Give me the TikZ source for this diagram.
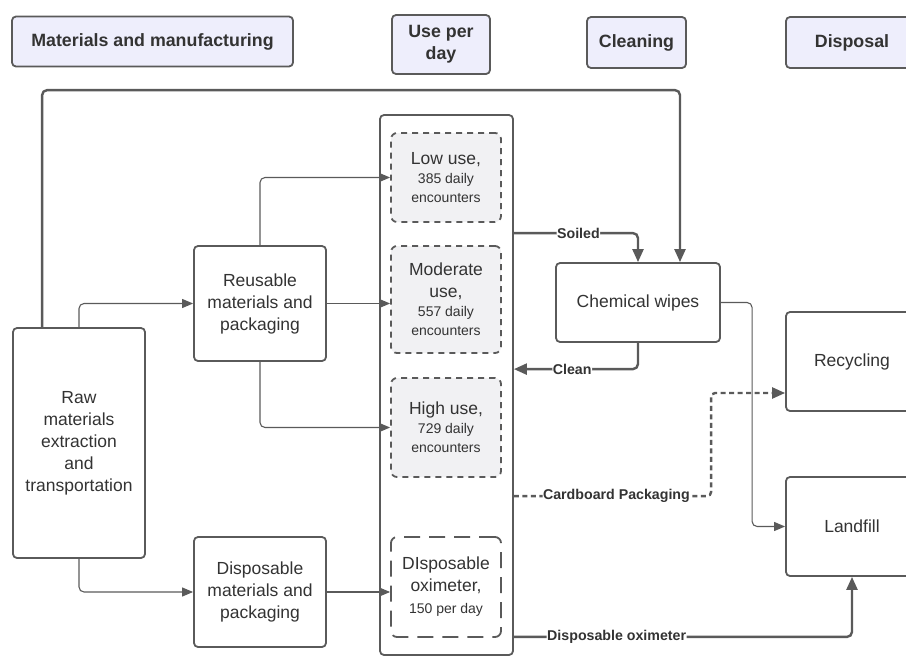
\documentclass[tikz,border=0pt]{standalone}
\usepackage{fontspec}
\setmainfont{Liberation Sans}
\usetikzlibrary{arrows.meta,calc}
\definecolor{ln}{HTML}{5A5A5A}
\definecolor{txt}{HTML}{333333}
\definecolor{hdrfill}{HTML}{EEEEFC}
\definecolor{dfill}{HTML}{F1F1F3}
\tikzset{
  hdr/.style={draw=ln, line width=1.8pt, fill=hdrfill, rounded corners=4pt, text=txt, align=center, inner sep=0pt,
    font=\bfseries\fontsize{17.8}{22}\selectfont},
  box/.style={draw=ln, line width=1.8pt, fill=white, rounded corners=4pt, text=txt, align=center, inner sep=0pt,
    font=\fontsize{17.5}{22}\selectfont},
  usebox/.style={draw=ln, line width=1.8pt, fill=dfill, rounded corners=6pt, dash pattern=on 6pt off 5pt, text=txt,
    align=center, inner sep=0pt, font=\fontsize{17.5}{22}\selectfont},
  dispbox/.style={draw=ln, line width=1.8pt, fill=white, rounded corners=6pt, dash pattern=on 16pt off 9pt, text=txt,
    align=center, inner sep=0pt, font=\fontsize{17.5}{22}\selectfont},
  thinln/.style={draw=ln, line width=1.1pt, rounded corners=5pt, -{Triangle[length=11pt,width=9pt]}},
  mainln/.style={draw=ln, line width=2.4pt, rounded corners=5pt, -{Triangle[length=13pt,width=11pt]}},
  lbl/.style={fill=white, inner sep=0.5pt, text=txt, font=\bfseries\fontsize{14.2}{16}\selectfont},
}
\newcommand{\sm}[1]{{\fontsize{14}{18}\selectfont #1}}
\begin{document}
\begin{tikzpicture}[x=1pt,y=-1pt]
\useasboundingbox (0,0) rectangle (906,656);
% headers
\node[hdr, minimum width=281pt, minimum height=50pt] (mm) at (152.5,41.5) {Materials and manufacturing};
\node[hdr, minimum width=98pt, minimum height=59pt] (upd) at (441,44.5) {Use per\\day};
\node[hdr, minimum width=99pt, minimum height=51pt] (cln) at (636.5,42.5) {Cleaning};
\node[hdr, minimum width=132pt, minimum height=51pt] (dsp) at (852,42.5) {Disposal};
% main boxes
\node[box, minimum width=132pt, minimum height=230pt] (raw) at (79,443) {Raw\\materials\\extraction\\and\\transportation};
\node[box, minimum width=132pt, minimum height=115pt] (reu) at (260,303.5) {Reusable\\materials and\\packaging};
\node[box, minimum width=132pt, minimum height=110pt] (dis) at (260,592) {Disposable\\materials and\\packaging};
\node[box, minimum width=133pt, minimum height=540pt] (col) at (446.5,385) {};
\node[usebox, minimum width=110pt, minimum height=89pt] (low) at (446,177.5) {Low use,\\[-3pt]\sm{385 daily}\\[-3pt]\sm{encounters}};
\node[usebox, minimum width=110pt, minimum height=107pt] (mod) at (446,299.5) {Moderate\\use,\\[-3pt]\sm{557 daily}\\[-3pt]\sm{encounters}};
\node[usebox, minimum width=110pt, minimum height=99pt] (high) at (446,427.5) {High use,\\[-3pt]\sm{729 daily}\\[-3pt]\sm{encounters}};
\node[dispbox, minimum width=110pt, minimum height=100pt] (dox) at (446,587) {DIsposable\\oximeter,\\\sm{150 per day}};
\node[box, minimum width=164pt, minimum height=79pt] (chem) at (638,302.5) {Chemical wipes};
\node[box, minimum width=132pt, minimum height=99pt] (rec) at (852,361.5) {Recycling};
\node[box, minimum width=132pt, minimum height=99pt] (lf) at (852,526.5) {Landfill};
% connectors
\draw[mainln] ($(raw.north west)+(30,0)$) |- ($(chem.north)+(42,-172)$) -- ($(chem.north)+(42,0)$);
\draw[thinln] (raw.north) |- (reu.west);
\draw[thinln] (raw.south) |- (dis.west);
\draw[thinln] (reu.north) |- (low.west);
\draw[thinln] (reu.east) -- (reu.east -| mod.west);
\draw[thinln] (reu.south) |- (high.west);
\draw[thinln] (dis.east) -- (dis.east -| dox.west);
\draw[mainln] ($(col.north east)+(0,119)$) -| node[lbl,pos=0.26] {Soiled} (chem.north);
\draw[mainln] (chem.south) |- node[lbl,pos=0.765] {Clean} ($(col.north east)+(0,255)$);
\draw[mainln, dash pattern=on 5pt off 3.5pt, rounded corners=4pt] ($(col.north east)+(0,382)$) -| node[lbl,pos=0.26] {Cardboard Packaging} ($(rec.west)+(-74,31.5)$) -- ($(rec.west)+(0,31.5)$);
\draw[thinln] (chem.east) -| ($(lf.west)+(-33,0)$) -- (lf.west);
\draw[mainln] ($(col.south east)+(0,-19)$) -| node[lbl,pos=0.152] {Disposable oximeter} (lf.south);
\end{tikzpicture}
\end{document}
